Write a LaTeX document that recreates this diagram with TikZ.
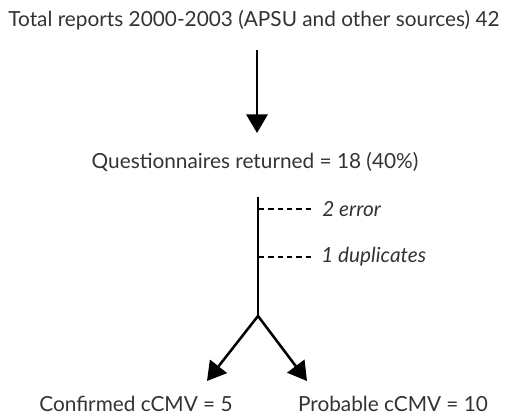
\documentclass[tikz,border=0pt]{standalone}
\usepackage{fontspec}
\setmainfont{Lato}
\usetikzlibrary{arrows.meta}
\begin{document}
\begin{tikzpicture}[x=0.75pt,y=-0.75pt,
  lbl/.style={inner sep=0pt, font=\fontsize{15.6}{18}\selectfont, text=black!80},
  ilbl/.style={lbl, font=\fontsize{15.6}{18}\selectfont\itshape},
  arr/.style={line width=1.9pt, -{Triangle[width=16pt,length=14pt]}},
  ln/.style={line width=1.9pt},
  dsh/.style={line width=1.6pt, dash pattern=on 4pt off 3pt}]
\useasboundingbox (0,0) rectangle (507,420);
\node[lbl] (total) at (254,20) {Total reports 2000-2003 (APSU and other sources) 42};
\coordinate (a1s) at (257,50);
\coordinate (a1e) at (257,133);
\draw[arr] (a1s) -- (a1e);
\node[lbl] (quest) at (255,162) {Questionnaires returned = 18 (40\%)};
\coordinate (vtop) at (258,197);
\coordinate (split) at (258,316);
\draw[ln] (vtop) -- (split);
\coordinate (d1s) at (259,209);
\coordinate (d1e) at (313,209);
\coordinate (d2s) at (259,257);
\coordinate (d2e) at (313,257);
\draw[dsh] (d1s) -- (d1e);
\draw[dsh] (d2s) -- (d2e);
\node[ilbl, anchor=west] (err) at (322,209) {2 error};
\node[ilbl, anchor=west] (dup) at (321,257) {1 duplicates};
\coordinate (lt) at (207,381);
\coordinate (rt) at (307,381);
\draw[arr] (split) -- (lt);
\draw[arr] (split) -- (rt);
\node[lbl] (conf) at (136,404) {Confirmed cCMV = 5};
\node[lbl] (prob) at (393,404) {Probable cCMV = 10};
\end{tikzpicture}
\end{document}
